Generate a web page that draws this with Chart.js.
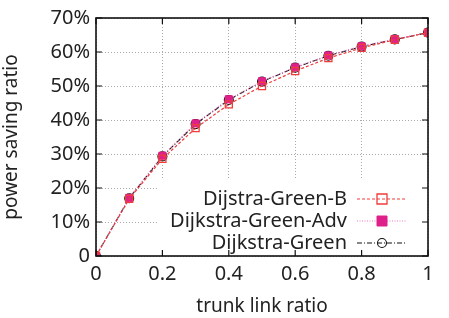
<!DOCTYPE html>
<html>
<head>
<meta charset="utf-8">
<script src="https://cdn.jsdelivr.net/npm/chart.js@4"></script>
<style>
  html, body { margin: 0; padding: 0; background: #fff; }
  #wrap { width: 449px; height: 318px; }
</style>
</head>
<body>
<div id="wrap"><canvas id="chart" width="449" height="318"></canvas></div>
<script>
const xValues = [0, 0.1, 0.2, 0.3, 0.4, 0.5, 0.6, 0.7, 0.8, 0.9, 1.0];
const greenB = [0, 16.8, 28.6, 37.6, 44.6, 50.0, 54.4, 58.2, 61.2, 63.6, 65.7];
const greenAdv = [0, 17.1, 29.5, 39.0, 46.1, 51.4, 55.5, 59.0, 61.7, 63.8, 65.7];
const green = [0, 17.0, 29.3, 38.8, 45.9, 51.3, 55.4, 58.9, 61.6, 63.7, 65.7];
const seriesNames = ['Dijstra-Green-B', 'Dijkstra-Green-Adv', 'Dijkstra-Green'];
const xTicks = [0, 0.2, 0.4, 0.6, 0.8, 1];
const yTicks = [0, 10, 20, 30, 40, 50, 60, 70];

const FONT = '"Noto Sans", "Open Sans", sans-serif';

function pts(arr){
    return arr.map((v, i) => ({ x: xValues[i], y: v }));
}

// inward ticks on all four sides, like gnuplot
const innerTicks = {
    id: 'innerTicks',
    afterDatasetsDraw(chart){
        const c = chart.ctx, a = chart.chartArea;
        const xs = chart.scales.x, ys = chart.scales.y;
        c.save();
        c.strokeStyle = '#111';
        c.lineWidth = 1.2;
        c.beginPath();
        xTicks.forEach(t => {
            const px = xs.getPixelForValue(t);
            c.moveTo(px, a.bottom); c.lineTo(px, a.bottom - 6);
            c.moveTo(px, a.top); c.lineTo(px, a.top + 6);
        });
        yTicks.forEach(t => {
            const py = ys.getPixelForValue(t);
            c.moveTo(a.left, py); c.lineTo(a.left + 6, py);
            c.moveTo(a.right, py); c.lineTo(a.right - 6, py);
        });
        c.stroke();
        c.lineWidth = 1.6;
        c.strokeRect(a.left, a.top, a.right - a.left, a.bottom - a.top);
        c.restore();
    }
};

function drawMarker(c, ds, x, y){
    const r = ds.pointRadius;
    c.save();
    c.setLineDash([]);
    c.lineWidth = ds.pointBorderWidth;
    c.strokeStyle = ds.pointBorderColor;
    c.fillStyle = ds.pointBackgroundColor;
    c.beginPath();
    if (ds.pointStyle === 'circle') {
        c.arc(x, y, r, 0, Math.PI * 2);
    } else {
        c.rect(x - r, y - r, r * 2, r * 2);
    }
    c.fill();
    c.stroke();
    c.restore();
}

// legend inside the plot, text right-aligned, sample on the right
const boxLegend = {
    id: 'boxLegend',
    beforeDatasetsDraw(chart){
        const c = chart.ctx, a = chart.chartArea;
        c.save();
        c.fillStyle = '#fff';
        c.fillRect(158, 178, a.right - 158 - 1, a.bottom - 178 - 1);
        c.restore();
    },
    afterDatasetsDraw(chart){
        const c = chart.ctx;
        const rows = [199, 221, 243];
        c.save();
        c.font = '20px ' + FONT;
        c.fillStyle = '#222';
        c.textAlign = 'right';
        c.textBaseline = 'middle';
        chart.data.datasets.forEach((ds, i) => {
            const y = rows[i];
            c.fillText(ds.label, 347, y);
            c.strokeStyle = ds.borderColor;
            c.lineWidth = ds.borderWidth;
            c.setLineDash(ds.borderDash);
            c.beginPath();
            c.moveTo(357, y); c.lineTo(407, y);
            c.stroke();
            drawMarker(c, ds, 382, y);
        });
        c.restore();
    }
};

new Chart(document.getElementById('chart'), {
    type: 'line',
    data: {
        datasets: [
            {
                label: seriesNames[0],
                data: pts(greenB),
                borderColor: '#f03c3c',
                borderWidth: 1.2,
                borderDash: [3, 2],
                pointStyle: 'rect',
                pointRadius: 5,
                pointBorderWidth: 1.3,
                pointBorderColor: '#f03c3c',
                pointBackgroundColor: 'rgba(255,255,255,0)'
            },
            {
                label: seriesNames[1],
                data: pts(greenAdv),
                borderColor: '#f47cc4',
                borderWidth: 1.2,
                borderDash: [1, 1.5],
                pointStyle: 'rect',
                pointRadius: 5,
                pointBorderWidth: 1,
                pointBorderColor: '#e0208a',
                pointBackgroundColor: '#e0208a'
            },
            {
                label: seriesNames[2],
                data: pts(green),
                borderColor: '#111',
                borderWidth: 1.1,
                borderDash: [5, 2, 1, 2],
                pointStyle: 'circle',
                pointRadius: 4.5,
                pointBorderWidth: 1.1,
                pointBorderColor: '#111',
                pointBackgroundColor: 'rgba(255,255,255,0)'
            }
        ]
    },
    options: {
        responsive: false,
        animation: false,
        layout: { padding: { top: 13, right: 21, left: 0, bottom: 0 } },
        plugins: {
            legend: { display: false },
            tooltip: { enabled: false }
        },
        scales: {
            x: {
                type: 'linear',
                min: 0,
                max: 1,
                afterBuildTicks(s){ s.ticks = xTicks.map(v => ({ value: v })); },
                afterFit(s){ s.height = 62; },
                grid: { color: '#aaa', drawTicks: false, lineWidth: 1 },
                border: { display: false, dash: [1, 2] },
                ticks: {
                    padding: 6,
                    color: '#222',
                    font: { family: FONT, size: 20 },
                    callback: v => String(v)
                },
                title: {
                    display: true,
                    text: 'trunk link ratio',
                    color: '#222',
                    font: { family: FONT, size: 19 },
                    padding: { top: 0, bottom: 0 }
                }
            },
            y: {
                min: 0,
                max: 70,
                afterBuildTicks(s){ s.ticks = yTicks.map(v => ({ value: v })); },
                afterFit(s){ s.width = 96; },
                grid: { color: '#aaa', drawTicks: false, lineWidth: 1 },
                border: { display: false, dash: [1, 2] },
                ticks: {
                    padding: 6,
                    color: '#222',
                    font: { family: FONT, size: 20 },
                    callback: v => v === 0 ? '0' : v + '%'
                },
                title: {
                    display: true,
                    text: 'power saving ratio',
                    color: '#222',
                    font: { family: FONT, size: 19 },
                    padding: { top: 0, bottom: 3 }
                }
            }
        }
    },
    plugins: [boxLegend, innerTicks]
});
</script>
</body>
</html>
